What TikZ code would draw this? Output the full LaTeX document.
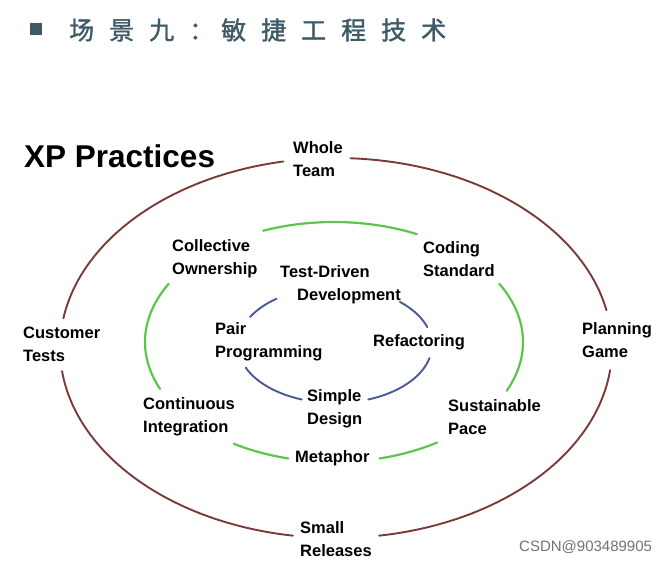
\documentclass[tikz,border=0pt]{standalone}
\usepackage{fontspec}
\setmainfont{Liberation Sans}
\newfontfamily\cjkfont{Noto Sans CJK SC}[FakeBold=1.3]
\definecolor{titlec}{HTML}{3E5A66}
\definecolor{outerc}{HTML}{7A3B38}
\definecolor{greenc}{HTML}{5CC64C}
\definecolor{bluec}{HTML}{4A5A98}
\newcommand\lblfont{\fontsize{16.5}{23}\selectfont\bfseries}
\newcommand\tcell[2][40pt]{\makebox[#1][l]{#2}}
\begin{document}
\begin{tikzpicture}[x=1pt,y=-1pt,
  lbl/.style={font=\lblfont, align=left, inner sep=0pt, anchor=west, text=black},
  ringouter/.style={draw=outerc, line width=1.9pt, line cap=round},
  ringgreen/.style={draw=greenc, line width=2.2pt, line cap=round},
  ringblue/.style={draw=bluec, line width=1.9pt, line cap=round}]
\useasboundingbox (0,0) rectangle (670,562);
\fill[white] (0,0) rectangle (670,562);
% title
\node[fill=titlec, minimum size=12pt, inner sep=0pt] (bullet) at (36,29) {};
\node[anchor=west, inner sep=0pt, text=titlec, font=\cjkfont\fontsize{25}{30}\selectfont] (title) at (69,30)
  {\tcell{场}\tcell{景}\tcell{九}\tcell[32pt]{：}\tcell{敏}\tcell{捷}\tcell{工}\tcell{程}\tcell{技}\tcell{术}};
\node[anchor=west, inner sep=0pt, font=\fontsize{31.5}{36}\selectfont\bfseries] (xp) at (24,156) {XP Practices};
% ellipse centres
\coordinate (oc) at (336,348);
\coordinate (gc) at (334,342);
\coordinate (bc) at (335,345);
\foreach \a/\b in {6.7/81, 99/173, 189/259, 273/348.5}
  \draw[ringouter] (oc) ++(\a:276 and 190) arc[start angle=\a, end angle=\b, x radius=276, y radius=190];
\foreach \a/\b in {331/384, 57/76, 104/122, 157/209, 248/296}
  \draw[ringgreen] (gc) ++(\a:189 and 120) arc[start angle=\a, end angle=\b, x radius=189, y radius=120];
\foreach \a/\b in {209/233, 110/157, 13/70, 312/342}
  \draw[ringblue] (bc) ++(\a:97 and 58) arc[start angle=\a, end angle=\b, x radius=97, y radius=58];
% outer labels
\node[lbl] (whole) at (293,159) {Whole\\Team};
\node[lbl] (customer) at (23,344) {Customer\\Tests};
\node[lbl] (planning) at (582,340) {Planning\\Game};
\node[lbl] (small) at (300,539) {Small\\Releases};
% middle labels
\node[lbl] (collective) at (172,259) {Collective\\Ownership};
\node[lbl] (coding) at (423,259) {Coding\\Standard};
\node[lbl] (continuous) at (143,417) {Continuous\\Integration};
\node[lbl] (sustainable) at (448,417) {Sustainable\\Pace};
\node[lbl] (metaphor) at (295,458) {Metaphor};
% inner labels
\node[lbl] (tdd) at (280,285) {Test-Driven\\\hspace*{17pt}Development};
\node[lbl] (pair) at (215,342) {Pair\\Programming};
\node[lbl] (refactoring) at (373,342) {Refactoring};
\node[lbl] (simple) at (307,409) {Simple\\Design};
% watermark
\node[anchor=west, inner sep=0pt, text=black!55, font=\fontsize{15}{18}\selectfont] (wm) at (519,547) {CSDN@903489905};
\end{tikzpicture}
\end{document}
